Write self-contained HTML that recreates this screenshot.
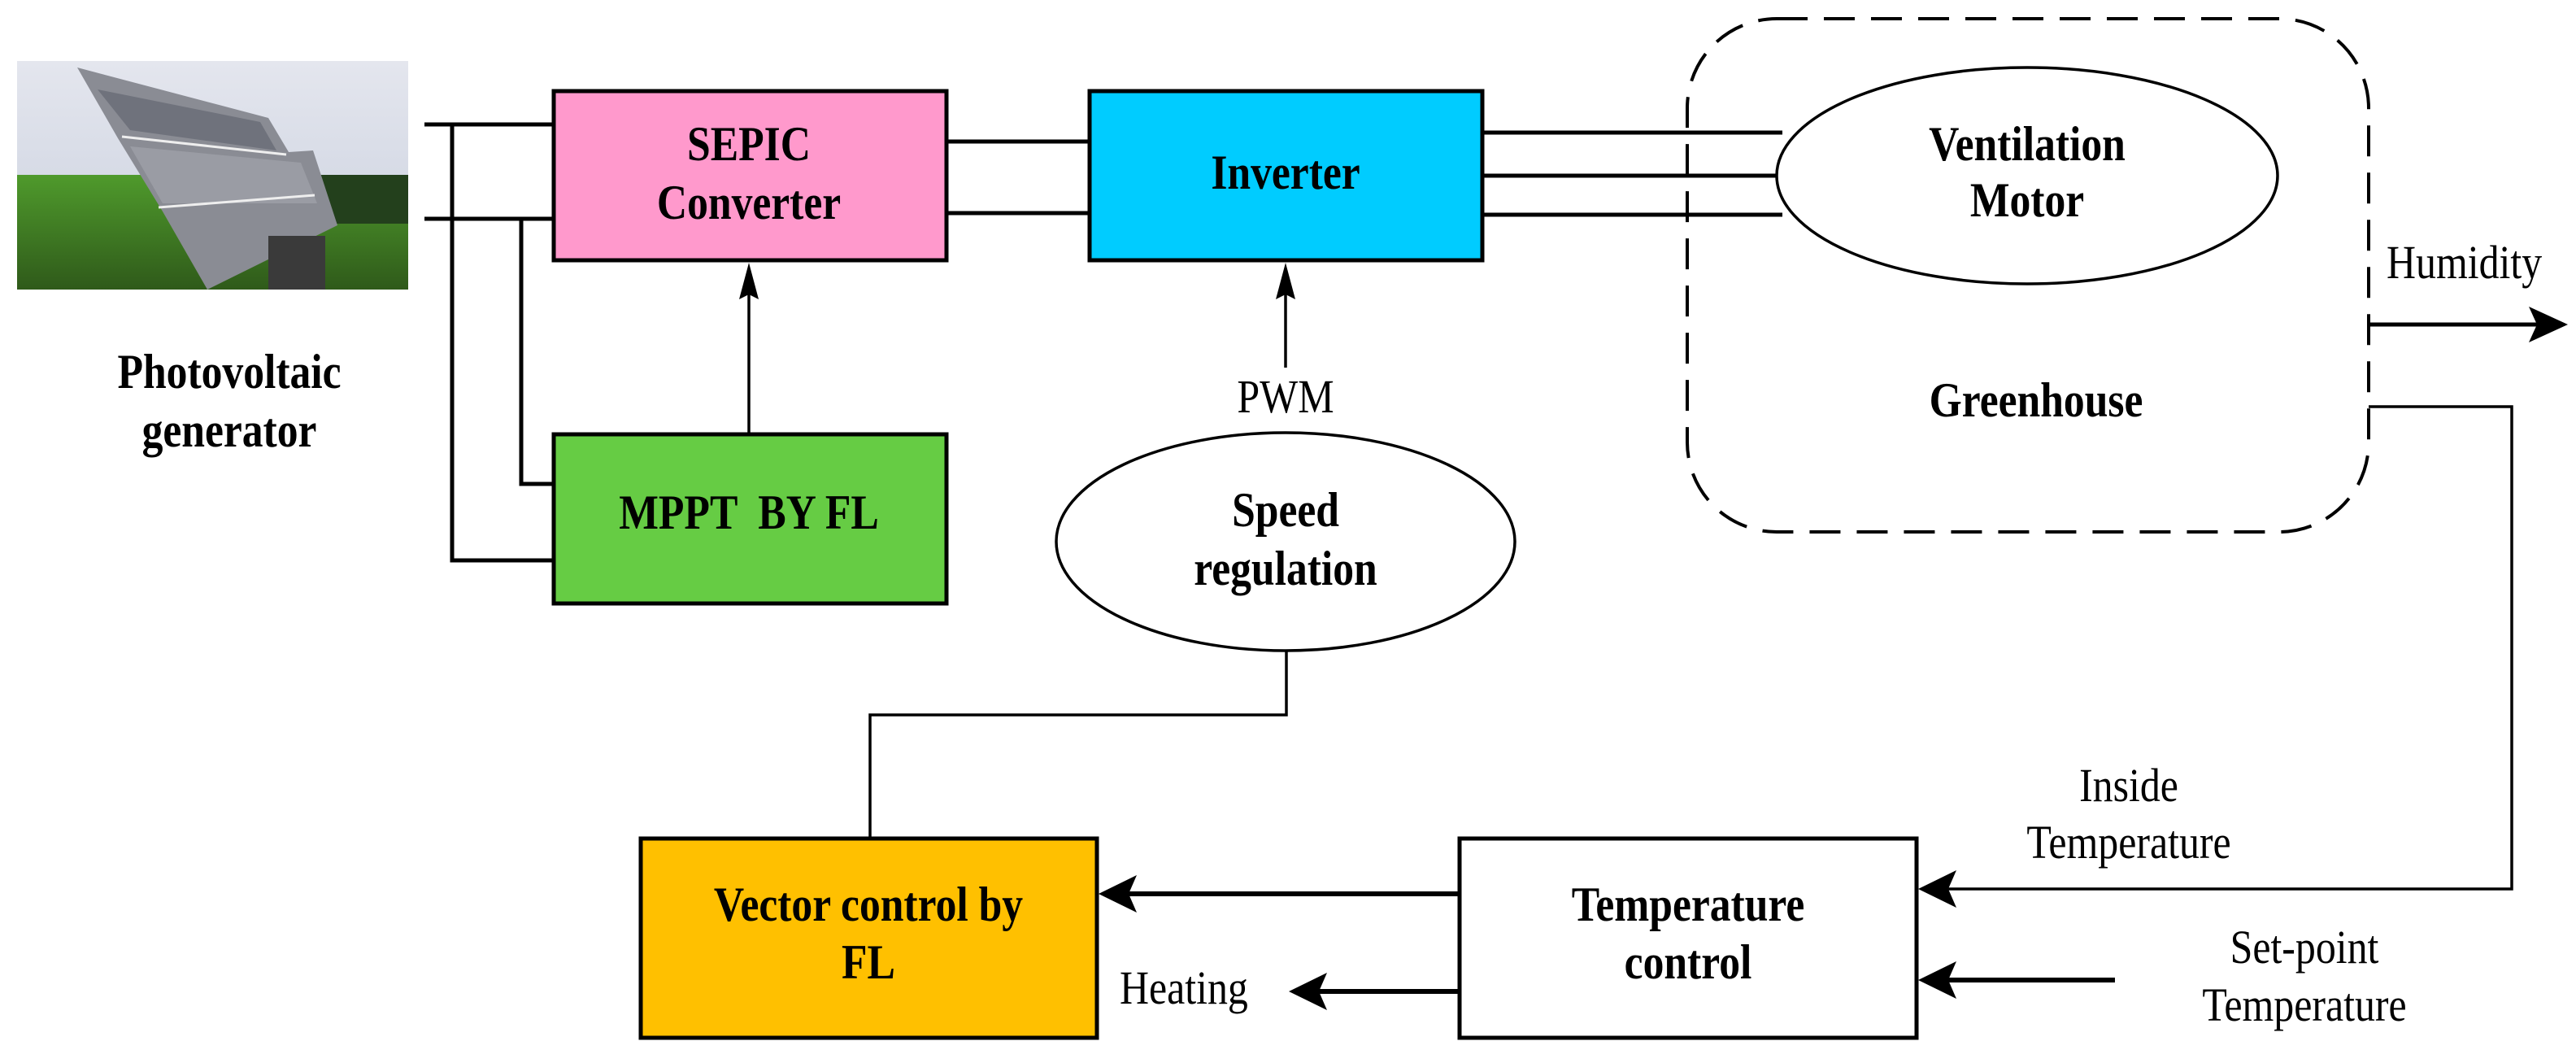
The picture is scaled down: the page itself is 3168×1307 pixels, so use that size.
<!DOCTYPE html>
<html><head><meta charset="utf-8"><style>
html,body{margin:0;padding:0;background:#fff}
svg text{font-family:"Liberation Serif",serif}
.b{font-weight:bold;font-size:60px}
.r{font-size:58px}
</style></head><body>
<svg width="3168" height="1302" viewBox="0 0 3168 1302" xmlns="http://www.w3.org/2000/svg">
<defs>
<linearGradient id="sky" x1="0" y1="0" x2="0" y2="1"><stop offset="0" stop-color="#e4e6ee"/><stop offset="1" stop-color="#c9d0de"/></linearGradient>
<linearGradient id="grass" x1="0" y1="0" x2="0" y2="1"><stop offset="0" stop-color="#4f9a2c"/><stop offset="1" stop-color="#2f5a1a"/></linearGradient>
</defs>
<!-- photo -->
<rect x="21" y="75" width="481" height="281" fill="url(#sky)"/>
<rect x="21" y="215" width="481" height="141" fill="url(#grass)"/>
<rect x="380" y="215" width="122" height="60" fill="#23401c"/>
<polygon points="95,83 330,145 355,187 385,185 415,277 255,356 200,260 145,170" fill="#8a8c94"/>
<polygon points="120,110 320,150 340,185 160,160" fill="#6f727c"/>
<polygon points="160,180 370,200 390,250 200,250" fill="#9a9ca4"/>
<line x1="150" y1="168" x2="352" y2="190" stroke="#eee" stroke-width="3"/>
<line x1="195" y1="255" x2="387" y2="240" stroke="#eee" stroke-width="3"/>
<rect x="330" y="290" width="70" height="66" fill="#3a3a3a"/>
<!-- wiring -->
<g stroke="#000" stroke-width="5" fill="none">
<line x1="522" y1="153" x2="680" y2="153"/>
<line x1="522" y1="269" x2="680" y2="269"/>
<polyline points="556,153 556,689 680,689"/>
<polyline points="641,269 641,595 680,595"/>
<line x1="1165" y1="174" x2="1339" y2="174"/>
<line x1="1165" y1="262" x2="1339" y2="262"/>
<line x1="1824" y1="163" x2="2192" y2="163"/>
<line x1="1824" y1="216" x2="2186" y2="216"/>
<line x1="1824" y1="264" x2="2192" y2="264"/>
</g>
<g stroke="#000" stroke-width="3.5" fill="none">
<line x1="921" y1="533" x2="921" y2="350"/>
<line x1="1581" y1="452" x2="1581" y2="350"/>
<polyline points="1582,800 1582,879 1070,879 1070,1029"/>
<polyline points="2913,500 3089,500 3089,1093 2390,1093"/>
</g>
<polygon points="921,323 909,368 921,362 933,368"/>
<polygon points="1581,323 1569,368 1581,362 1593,368"/>
<!-- boxes -->
<rect x="681" y="112" width="483" height="208" fill="#ff99cc" stroke="#000" stroke-width="5"/>
<rect x="1340" y="112" width="483" height="208" fill="#00ccff" stroke="#000" stroke-width="5"/>
<rect x="681" y="534" width="483" height="208" fill="#66cc44" stroke="#000" stroke-width="5"/>
<rect x="788" y="1031" width="561" height="245" fill="#ffc000" stroke="#000" stroke-width="5"/>
<rect x="1795" y="1031" width="562" height="245" fill="#fff" stroke="#000" stroke-width="5"/>
<ellipse cx="2493" cy="216" rx="308" ry="133" fill="#fff" stroke="#000" stroke-width="3.5"/>
<ellipse cx="1581" cy="666" rx="282" ry="134" fill="#fff" stroke="#000" stroke-width="3.5"/>
<rect x="2075" y="23" width="838" height="631" rx="110" ry="110" fill="none" stroke="#000" stroke-width="4" stroke-dasharray="38,20"/>
<line x1="2913" y1="399" x2="3120" y2="399" stroke="#000" stroke-width="5"/>
<polygon points="3158,399 3110,377 3120,399 3110,421"/>
<g stroke="#000" stroke-width="6">
<line x1="1794" y1="1099" x2="1380" y2="1099"/>
<line x1="1794" y1="1219" x2="1612" y2="1219"/>
<line x1="2601" y1="1205" x2="2390" y2="1205"/>
</g>
<polygon points="1351,1099 1398,1076 1388,1099 1398,1122"/>
<polygon points="1585,1219 1632,1196 1622,1219 1632,1242"/>
<polygon points="2359,1093 2406,1070 2396,1093 2406,1116"/>
<polygon points="2359,1205 2406,1182 2396,1205 2406,1228"/>
<!-- text (condensed) -->
<g text-anchor="middle" class="b">
<text transform="translate(282,477) scale(0.86,1)">Photovoltaic</text>
<text transform="translate(282,549) scale(0.86,1)">generator</text>
<text transform="translate(921,197) scale(0.86,1)">SEPIC</text>
<text transform="translate(921,269) scale(0.86,1)">Converter</text>
<text transform="translate(1581,232) scale(0.86,1)">Inverter</text>
<text transform="translate(921,650) scale(0.86,1)" xml:space="preserve">MPPT  BY FL</text>
<text transform="translate(2493,197) scale(0.86,1)">Ventilation</text>
<text transform="translate(2493,266) scale(0.86,1)">Motor</text>
<text transform="translate(2504,512) scale(0.86,1)">Greenhouse</text>
<text transform="translate(1581,647) scale(0.86,1)">Speed</text>
<text transform="translate(1581,719) scale(0.86,1)">regulation</text>
<text transform="translate(1068,1132) scale(0.86,1)">Vector control by</text>
<text transform="translate(1068,1203) scale(0.86,1)">FL</text>
<text transform="translate(2076,1132) scale(0.86,1)">Temperature</text>
<text transform="translate(2076,1203) scale(0.86,1)">control</text>
</g>
<g class="r">
<text transform="translate(2935,342) scale(0.86,1)">Humidity</text>
<text transform="translate(1581,507) scale(0.86,1)" text-anchor="middle">PWM</text>
<text transform="translate(1377,1234) scale(0.86,1)">Heating</text>
<text transform="translate(2618,985) scale(0.86,1)" text-anchor="middle">Inside</text>
<text transform="translate(2618,1055) scale(0.86,1)" text-anchor="middle">Temperature</text>
<text transform="translate(2834,1184) scale(0.86,1)" text-anchor="middle">Set-point</text>
<text transform="translate(2834,1255) scale(0.86,1)" text-anchor="middle">Temperature</text>
</g>
</svg>
</body></html>
